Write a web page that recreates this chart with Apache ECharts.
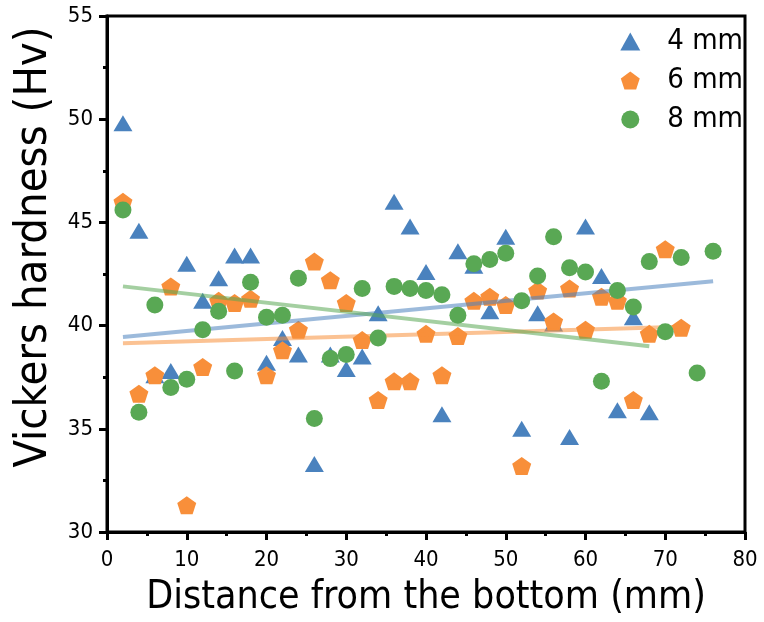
<!DOCTYPE html>
<html>
<head>
<meta charset="utf-8">
<script src="https://cdn.jsdelivr.net/npm/echarts@6/dist/echarts.min.js"></script>
<style>
  html, body { margin: 0; padding: 0; background: #fff; }
  #chart { width: 764px; height: 622px; }
</style>
</head>
<body>
<div id="chart"></div>
<script>
// distance from the bottom (mm)
const distance = [2, 4, 6, 8, 10, 12, 14, 16, 18, 20, 22, 24, 26, 28, 30, 32, 34, 36, 38,
  40, 42, 44, 46, 48, 50, 52, 54, 56, 58, 60, 62, 64, 66, 68, 70, 72, 74, 76]

// Vickers hardness (Hv)
const hv4 = [49.8, 44.6, 37.6, 37.8, 43.0, 41.2, 42.3, 43.4, 43.4, 38.2, 39.4, 38.6, 33.3, 38.6,
  37.9, 38.5, 40.6, 46.0, 44.8, 42.6, 35.7, 43.6, 42.9, 40.7, 44.3, 35.0, 40.6, 40.1, 34.6,
  44.8, 42.4, 35.9, 40.4, 35.8]
const hv6 = [46.0, 36.7, 37.6, 41.9, 31.3, 38.0, 41.2, 41.1, 41.3, 37.6, 38.8, 39.8, 43.1, 42.2,
  41.1, 39.3, 36.4, 37.3, 37.3, 39.6, 37.6, 39.5, 41.2, 41.4, 41.0, 33.2, 41.7, 40.2, 41.8,
  39.8, 41.4, 41.2, 36.4, 39.6, 43.7, 39.9]
const hv8 = [45.6, 35.8, 41.0, 37.0, 37.4, 39.8, 40.7, 37.8, 42.1, 40.4, 40.5, 42.3, 35.5, 38.4,
  38.6, 41.8, 39.4, 41.9, 41.8, 41.7, 41.5, 40.5, 43.0, 43.2, 43.5, 41.2, 42.4, 44.3, 42.8,
  42.6, 37.3, 41.7, 40.9, 43.1, 39.7, 43.3, 37.7, 43.6]

// linear fit end points [distance, hv]
const fit4 = [[2, 39.45], [76, 42.15]]
const fit6 = [[2, 39.15], [72, 39.95]]
const fit8 = [[2, 41.9], [68, 39.0]]

const names = ['4 mm', '6 mm', '8 mm']
const colors = ['#4a82be', '#f88f3a', '#59a854']

const pentagon = 'path://M0,-1 L0.951,-0.309 L0.588,0.809 L-0.588,0.809 L-0.951,-0.309 Z'
const font = 'DejaVu Sans Condensed'

const pairs = (ys) => ys.map((v, i) => [distance[i], v])

const fitLine = (data, color) => ({
  type: 'line',
  data: data,
  showSymbol: false,
  silent: true,
  lineStyle: { color: color, width: 4, opacity: 0.55 },
  z: 3
})

const chart = echarts.init(document.getElementById('chart'), null, { renderer: 'canvas' })

chart.setOption({
  animation: false,
  textStyle: { fontFamily: font },
  grid: {
    left: 107,
    right: 19,
    top: 16,
    bottom: 90,
    show: true,
    borderColor: '#000',
    borderWidth: 3
  },
  legend: {
    orient: 'vertical',
    right: 16,
    top: 22,
    itemWidth: 20,
    itemHeight: 18,
    itemGap: 10,
    data: names,
    textStyle: { fontFamily: font, fontSize: 29, color: '#000', padding: [0, 0, 0, 22] }
  },
  xAxis: {
    type: 'value',
    min: 0,
    max: 80,
    interval: 10,
    name: 'Distance from the bottom (mm)',
    nameLocation: 'middle',
    nameGap: 46,
    nameTextStyle: { fontSize: 39, color: '#000', fontFamily: font },
    axisLine: { show: true, onZero: false, lineStyle: { color: '#000', width: 3 } },
    axisTick: { show: true, inside: false, length: 8, lineStyle: { width: 3, color: '#000' } },
    minorTick: { show: true, splitNumber: 2, length: 4, lineStyle: { width: 3, color: '#000' } },
    axisLabel: { fontSize: 22, color: '#000', margin: 17, fontFamily: font },
    splitLine: { show: false }
  },
  yAxis: {
    type: 'value',
    min: 30,
    max: 55,
    interval: 5,
    name: 'Vickers hardness (Hv)',
    nameLocation: 'middle',
    nameGap: 31,
    nameTextStyle: { fontSize: 45, color: '#000', fontFamily: font, padding: [0, 0, 0, 54] },
    axisLine: { show: true, onZero: false, lineStyle: { color: '#000', width: 3 } },
    axisTick: { show: true, inside: false, length: 8, lineStyle: { width: 3, color: '#000' } },
    minorTick: { show: true, splitNumber: 2, length: 4, lineStyle: { width: 3, color: '#000' } },
    axisLabel: { fontSize: 22, color: '#000', margin: 14, fontFamily: font },
    splitLine: { show: false }
  },
  series: [
    {
      name: names[0],
      type: 'scatter',
      data: pairs(hv4),
      symbol: 'triangle',
      symbolSize: [19, 16],
      itemStyle: { color: colors[0], opacity: 1 },
      z: 2
    },
    {
      name: names[1],
      type: 'scatter',
      data: pairs(hv6),
      symbol: pentagon,
      symbolSize: [19, 18],
      itemStyle: { color: colors[1], opacity: 1 },
      z: 2
    },
    fitLine(fit4, colors[0]),
    fitLine(fit6, colors[1]),
    {
      name: names[2],
      type: 'scatter',
      data: pairs(hv8),
      symbol: 'circle',
      symbolSize: 17,
      itemStyle: { color: colors[2], opacity: 1 },
      z: 4
    },
    Object.assign(fitLine(fit8, colors[2]), { z: 5 })
  ]
})
</script>
</body>
</html>
